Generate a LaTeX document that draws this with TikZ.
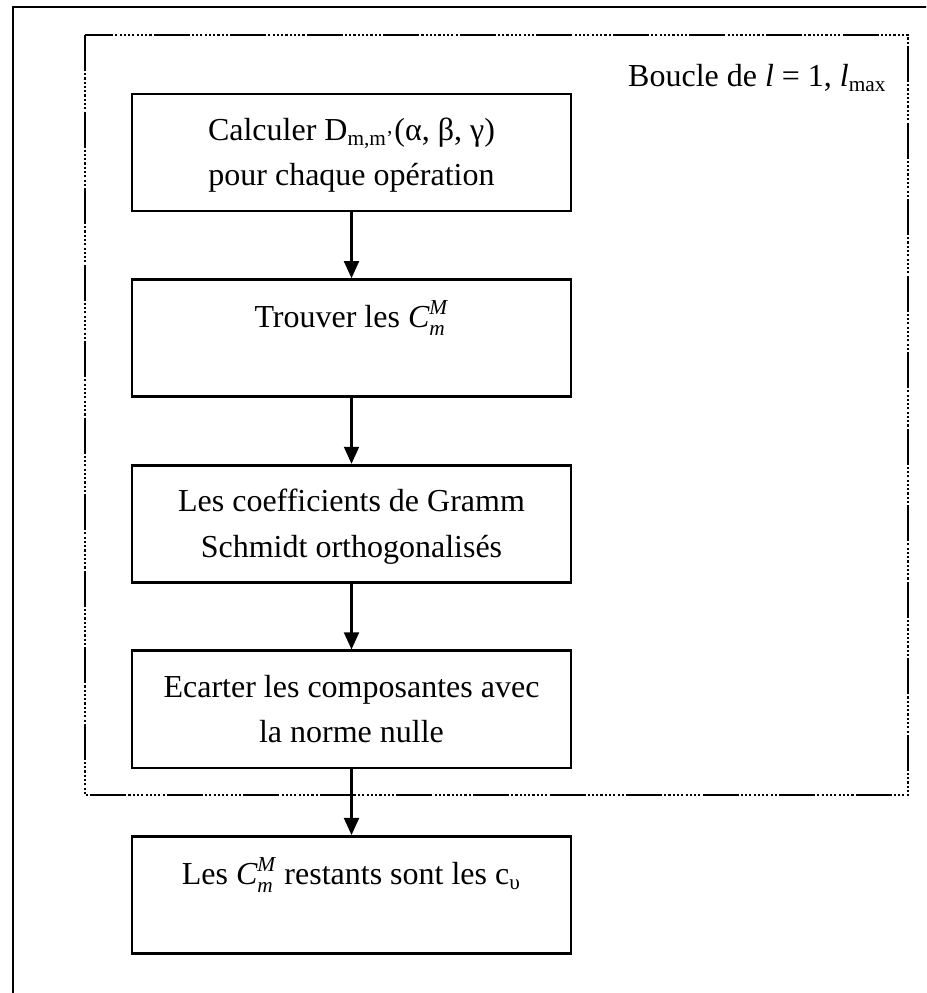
\documentclass[tikz,border=0pt]{standalone}
\usepackage{amsmath}
\usepackage{fontspec}
\setmainfont{Liberation Serif}
\usepackage{tikz}
\usetikzlibrary{arrows.meta}

\begin{document}
\begin{tikzpicture}[->,>={Triangle[length=6.4pt,width=5.6pt]},x=0.375pt,y=-0.375pt,
                    node distance=69.6pt,line width=0.8pt,
                    font=\fontsize{12}{16.9}\selectfont]
\tikzstyle{etape}=[draw=black,line width=1pt,minimum width=164.6pt,minimum height=43.9pt,
                   inner sep=0pt,align=center,text height=8pt,text depth=15.9pt]
\tikzstyle{deuxlignes}=[text height=26pt,text depth=1pt]
\tikzstyle{boucle}=[-,draw=black,line width=1pt,
                    dash pattern=on 13.5pt off 0.8pt on 0.8pt off 0.8pt on 0.8pt off 0.8pt
                    on 0.8pt off 0.8pt on 0.8pt off 0.8pt on 0.8pt off 0.8pt on 0.8pt off 0.8pt
                    on 0.8pt off 0.8pt on 0.8pt off 0.8pt on 0.8pt off 0.8pt]
\useasboundingbox (0,0) rectangle (926,993);
\clip (0,0) rectangle (926,993);
% cadre de la page et boucle sur l
\draw[-,line width=1pt] (13,7) rectangle (940,1010);
\draw[boucle] (85,35) rectangle (908,795);
\node[anchor=base east,inner sep=0pt] (titre) at (888,87) {Boucle de \textit{l} = 1, \textit{l}\textsubscript{max}};
% etapes
\node[etape,deuxlignes] (1) at (351.5,152.5) {Calculer D\textsubscript{m,m’}(α, β, γ)\\pour chaque opération};
\node[etape] (2) [below of=1] {Trouver les $\textit{C}^{\textit{M}}_{\textit{m}}$};
\node[etape,deuxlignes] (3) [below of=2] {Les coefficients de Gramm\\Schmidt orthogonalisés};
\node[etape,deuxlignes] (4) [below of=3] {Ecarter les composantes avec\\la norme nulle};
\node[etape] (5) [below of=4] {Les $\textit{C}^{\textit{M}}_{\textit{m}}$ restants sont les c\textsubscript{υ}};
\path (1) edge (2)
      (2) edge (3)
      (3) edge (4)
      (4) edge (5);
\end{tikzpicture}
\end{document}
